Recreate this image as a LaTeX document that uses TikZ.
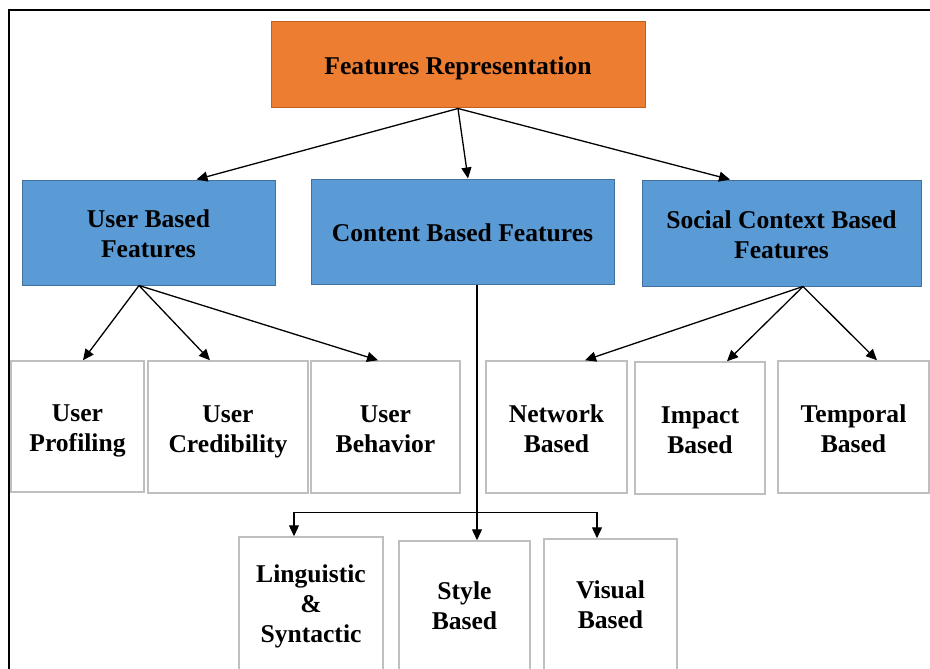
\documentclass[tikz,border=0pt]{standalone}
\usepackage{fontspec}
\setmainfont{Liberation Serif}
\usetikzlibrary{arrows.meta}

\definecolor{rootfill}{HTML}{ED7D31}
\definecolor{rootline}{HTML}{C0601E}
\definecolor{groupfill}{HTML}{5B9BD5}
\definecolor{groupline}{HTML}{41719C}
\definecolor{leafline}{HTML}{BFBFBF}

\tikzset{
    box/.style={inner sep=0pt, align=center, font=\bfseries\fontsize{25.6}{30}\selectfont,
        text depth=0pt, text height=50pt},
    oneline/.style={text height=19pt},
    threeline/.style={text height=75pt},
    rootbox/.style={box, fill=rootfill, draw=rootline, line width=1pt},
    groupbox/.style={box, fill=groupfill, draw=groupline, line width=1pt},
    leafbox/.style={box, draw=leafline, line width=1.5pt},
    arrow/.style={line width=1.3pt, -{Triangle[length=11pt, width=10pt]}}
}

\begin{document}
\begin{tikzpicture}[x=1pt, y=-1pt]
        \useasboundingbox (0,0) rectangle (930,669);
        % Frame round the figure.
            \draw[line width=2.5pt] (9,672) -- (9,10) -- (932,10);
        % Top level.
            \node[rootbox, oneline, minimum width=374pt, minimum height=86pt] (root) at (458,65) {Features Representation};
        % Second level.
            \node[groupbox, minimum width=253pt, minimum height=105pt] (user) at (148.5,232.5) {User Based\\Features};
            \node[groupbox, oneline, minimum width=303pt, minimum height=105pt] (content) at (462.5,231.5) {Content Based Features};
            \node[groupbox, minimum width=279pt, minimum height=106pt] (social) at (781.5,233) {Social Context Based\\Features};
        % Leaves under the user and social boxes.
            \node[leafbox, minimum width=133pt, minimum height=131pt] (profiling) at (77.5,426.5) {User\\Profiling};
            \node[leafbox, minimum width=160pt, minimum height=132pt] (credibility) at (228,427) {User\\Credibility};
            \node[leafbox, minimum width=149pt, minimum height=132pt] (behavior) at (385.5,427) {User\\Behavior};
            \node[leafbox, minimum width=141pt, minimum height=132pt] (network) at (556.5,427) {Network\\Based};
            \node[leafbox, minimum width=130pt, minimum height=132pt] (impact) at (700,428) {Impact\\Based};
            \node[leafbox, minimum width=151pt, minimum height=132pt] (temporal) at (853.5,427) {Temporal\\Based};
        % Leaves under the content box.
            \node[leafbox, threeline, minimum width=144pt, minimum height=136pt] (linguistic) at (311,605) {Linguistic\\\&\\Syntactic};
            \node[leafbox, text height=45pt, minimum width=131pt, minimum height=132pt] (style) at (464.5,607) {Style\\Based};
            \node[leafbox, text height=44pt, minimum width=133pt, minimum height=134pt] (visual) at (610.5,606) {Visual\\Based};
        % Arrows from the top box.
            \draw[arrow] (root.south) -- ([xshift=48pt]user.north);
            \draw[arrow] (root.south) -- ([xshift=5.5pt]content.north);
            \draw[arrow] (root.south) -- ([xshift=-51.5pt]social.north);
        % Arrows to the leaves.
            \draw[arrow] ([xshift=-9.5pt]user.south) -- ([xshift=5.5pt]profiling.north);
            \draw[arrow] ([xshift=-9.5pt]user.south) -- ([xshift=-18pt]credibility.north);
            \draw[arrow] ([xshift=-9.5pt]user.south) -- ([xshift=-7.5pt]behavior.north);
            \draw[arrow] ([xshift=21.5pt]social.south) -- ([xshift=28.5pt]network.north);
            \draw[arrow] ([xshift=21.5pt]social.south) -- ([xshift=27pt]impact.north);
            \draw[arrow] ([xshift=21.5pt]social.south) -- ([xshift=23.5pt]temporal.north);
        % The content box splits with elbows.
            \draw[line width=1.3pt] ([xshift=14.5pt]content.south) -- ++(0,228) coordinate (split);
            \draw[arrow] (split) -| ([xshift=-17pt]linguistic.north);
            \draw[arrow] (split) -| ([xshift=-13.5pt]visual.north);
            \draw[arrow] (split) -- ([xshift=12.5pt]style.north);
    \end{tikzpicture}
\end{document}
